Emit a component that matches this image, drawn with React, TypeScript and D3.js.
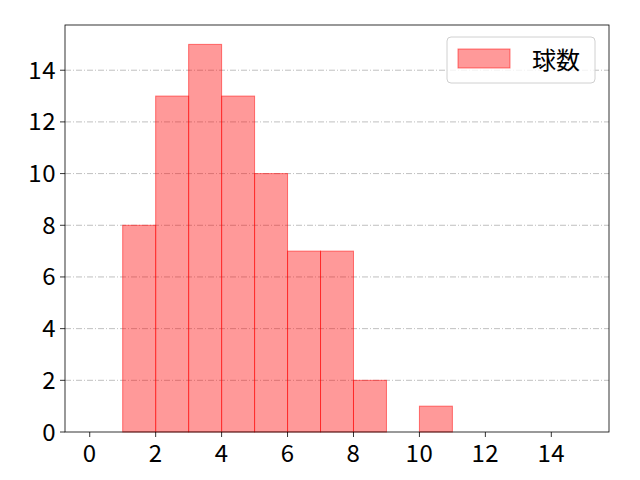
import React from "react";
import * as d3 from "d3";

const binStarts = [0, 1, 2, 3, 4, 5, 6, 7, 8, 9, 10, 11, 12, 13, 14];
const counts = [0, 8, 13, 15, 13, 10, 7, 7, 2, 0, 1, 0, 0, 0, 0];
const xTicks = [0, 2, 4, 6, 8, 10, 12, 14];
const yTicks = [0, 2, 4, 6, 8, 10, 12, 14];
const legendLabel = "球数";

export default function App() {
  const W = 640, H = 480;
  const left = 65, right = 609, top = 25, bottom = 432;
  const x = d3.scaleLinear().domain([-0.75, 15.75]).range([left, right]);
  const y = d3.scaleLinear().domain([0, 15.75]).range([bottom, top]);
  const font = "'Noto Sans CJK JP', 'DejaVu Sans', sans-serif";
  return (
    <svg width={W} height={H} style={{ position: "absolute", left: 0, top: 0 }} fontFamily={font}>
      <rect x={0} y={0} width={W} height={H} fill="white" />
      {yTicks.filter((t) => t > 0).map((t) => (
        <line key={"g" + t} x1={left} x2={right} y1={y(t)} y2={y(t)} stroke="#b0b0b0" strokeWidth={0.8} strokeDasharray="6,2,1,2" />
      ))}
      {binStarts.map((b, i) =>
        counts[i] > 0 ? (
          <rect
            key={"b" + i}
            x={x(b)}
            y={y(counts[i])}
            width={x(b + 1) - x(b)}
            height={y(0) - y(counts[i])}
            fill="rgba(255,0,0,0.4)"
            stroke="rgba(255,0,0,0.5)"
            strokeWidth={1}
          />
        ) : null
      )}
      <rect x={left} y={top} width={right - left} height={bottom - top} fill="none" stroke="black" strokeWidth={0.8} />
      {xTicks.map((t) => (
        <g key={"x" + t}>
          <line x1={x(t)} x2={x(t)} y1={bottom} y2={bottom + 5} stroke="black" strokeWidth={0.8} />
          <text x={x(t)} y={bottom + 30} textAnchor="middle" fontSize={24} letterSpacing={0.5} fill="black">{t}</text>
        </g>
      ))}
      {yTicks.map((t) => (
        <g key={"y" + t}>
          <line x1={left - 5} x2={left} y1={y(t)} y2={y(t)} stroke="black" strokeWidth={0.8} />
          <text x={left - 9} y={y(t) + 8.5} textAnchor="end" fontSize={24} letterSpacing={0.5} fill="black">{t}</text>
        </g>
      ))}
      <g>
        <rect x={447} y={37} width={148} height={46} rx={4} fill="white" fillOpacity={0.8} stroke="#d0d0d0" strokeWidth={1} />
        <rect x={458} y={49} width={52} height={19} fill="rgba(255,0,0,0.4)" stroke="rgba(255,0,0,0.5)" strokeWidth={1} />
        <text x={532} y={69} fontSize={24} fill="black">{legendLabel}</text>
      </g>
    </svg>
  );
}
